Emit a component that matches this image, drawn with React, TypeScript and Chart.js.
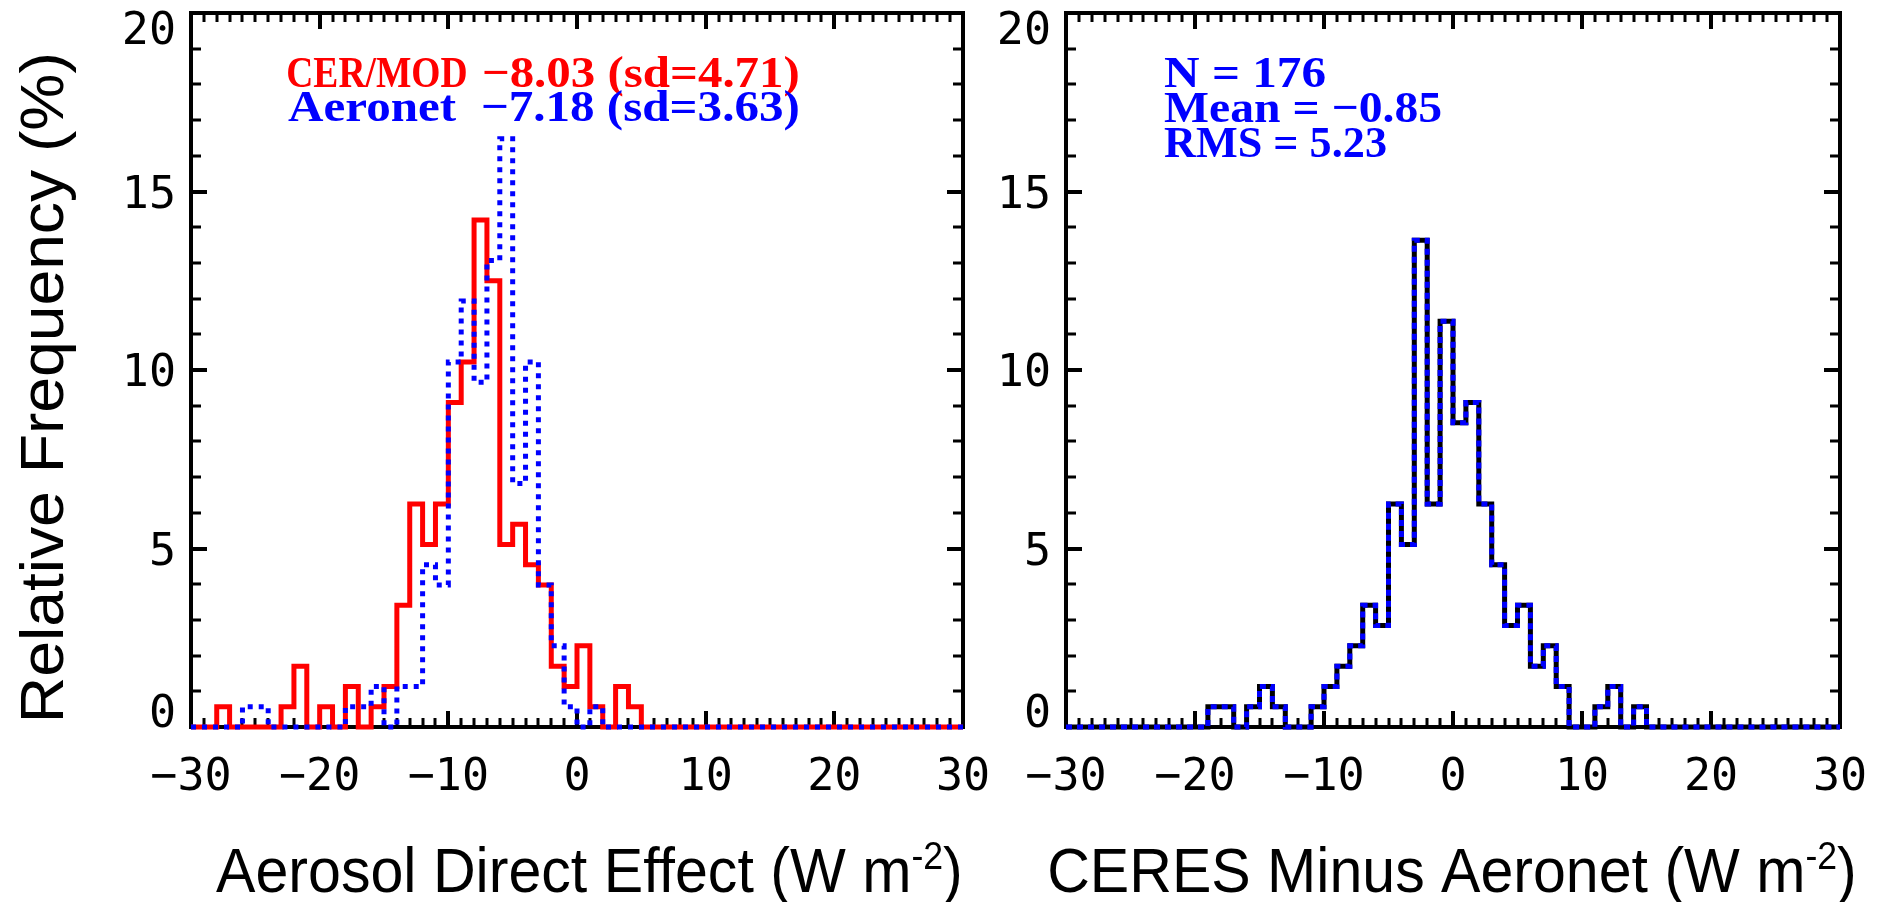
import React, { useEffect, useRef } from "react";
import { Chart, registerables } from "chart.js";

Chart.register(...registerables);

// ---------------- data ----------------
const N_OBS = 176; // number of coincident observations
const BIN_START = -30; // left edge of first bin (W m-2)
const BIN_WIDTH = 1; // bin width (W m-2)

// counts per 1 W m-2 bin, bins [-30,-29) ... [29,30)
const cerModCounts = [
  0, 0, 1, 0, 0, 0, 0, 1, 3, 0,
  1, 0, 2, 0, 1, 2, 6, 11, 9, 11,
  16, 18, 25, 22, 9, 10, 8, 7, 3, 2,
  4, 1, 0, 2, 1, 0, 0, 0, 0, 0,
  0, 0, 0, 0, 0, 0, 0, 0, 0, 0,
  0, 0, 0, 0, 0, 0, 0, 0, 0, 0,
];
const aeronetCounts = [
  0, 0, 0, 0, 1, 1, 0, 0, 0, 0,
  0, 0, 1, 1, 2, 0, 2, 2, 8, 7,
  18, 21, 17, 23, 29, 12, 18, 7, 4, 1,
  0, 1, 0, 0, 0, 0, 0, 0, 0, 0,
  0, 0, 0, 0, 0, 0, 0, 0, 0, 0,
  0, 0, 0, 0, 0, 0, 0, 0, 0, 0,
];
const diffCounts = [
  0, 0, 0, 0, 0, 0, 0, 0, 0, 0,
  0, 1, 1, 0, 1, 2, 1, 0, 0, 1,
  2, 3, 4, 6, 5, 11, 9, 24, 11, 20,
  15, 16, 11, 8, 5, 6, 3, 4, 2, 0,
  0, 1, 2, 0, 1, 0, 0, 0, 0, 0,
  0, 0, 0, 0, 0, 0, 0, 0, 0, 0,
];

const X_MIN = -30;
const X_MAX = 30;
const Y_MIN = 0;
const Y_MAX = 20;
const X_TICK_LABELS = [-30, -20, -10, 0, 10, 20, 30];
const Y_TICK_LABELS = [0, 5, 10, 15, 20];
const X_MINOR_STEP = 1;
const Y_MINOR_STEP = 1;

const LEFT_LEGEND = [
  { parts: ["CER/MOD", "\u22128.03 (sd=4.71)"], color: "#ff0000" },
  { parts: ["Aeronet  \u22127.18 (sd=3.63)"], color: "#0000ff" },
];
const RIGHT_STATS = ["N = 176", "Mean = \u22120.85", "RMS = 5.23"];
const Y_TITLE = "Relative Frequency (%)";
const LEFT_X_TITLE = ["Aerosol Direct Effect (W m", "-2", ")"];
const RIGHT_X_TITLE = ["CERES Minus Aeronet (W m", "-2", ")"];

// ---------------- helpers ----------------
const toSteps = (counts: number[]) => {
  const pts = counts.map((c, i) => ({ x: BIN_START + i * BIN_WIDTH, y: (c / N_OBS) * 100 }));
  pts.push({ x: BIN_START + counts.length * BIN_WIDTH, y: pts[pts.length - 1].y });
  return pts;
};

const fmt = (v: number) => (v < 0 ? "\u2212" + Math.abs(v) : String(v));

function fitText(
  ctx: CanvasRenderingContext2D,
  text: string,
  x0: number,
  x1: number,
  baseline: number,
  font: string,
  color: string
) {
  ctx.save();
  ctx.font = font;
  ctx.fillStyle = color;
  ctx.textAlign = "left";
  ctx.textBaseline = "alphabetic";
  const m = ctx.measureText(text);
  const inkW = m.actualBoundingBoxLeft + m.actualBoundingBoxRight;
  const s = (x1 - x0) / inkW;
  ctx.translate(x0, baseline);
  ctx.scale(s, 1);
  ctx.fillText(text, m.actualBoundingBoxLeft, 0);
  ctx.restore();
}

function drawUnitTitle(
  ctx: CanvasRenderingContext2D,
  parts: string[],
  x0: number,
  x1: number,
  baseline: number,
  size: number
) {
  const big = `${size}px 'Liberation Sans', Arial, sans-serif`;
  const small = `${Math.round(size * 0.6)}px 'Liberation Sans', Arial, sans-serif`;
  ctx.save();
  ctx.fillStyle = "#000";
  ctx.textAlign = "left";
  ctx.textBaseline = "alphabetic";
  ctx.font = big;
  const w0 = ctx.measureText(parts[0]).width;
  const left = ctx.measureText(parts[0]).actualBoundingBoxLeft;
  const w2m = ctx.measureText(parts[2]);
  ctx.font = small;
  const w1 = ctx.measureText(parts[1]).width;
  const total = left + w0 + w1 + w2m.actualBoundingBoxRight;
  const s = (x1 - x0) / total;
  ctx.translate(x0, baseline);
  ctx.scale(s, 1);
  ctx.font = big;
  ctx.fillText(parts[0], left, 0);
  ctx.font = small;
  ctx.fillText(parts[1], left + w0, -size * 0.36);
  ctx.font = big;
  ctx.fillText(parts[2], left + w0 + w1, 0);
  ctx.restore();
}

type DecorCfg = {
  drawYTitle: boolean;
  xTitle: string[];
  xTitleSpan: [number, number];
  texts: (ctx: CanvasRenderingContext2D) => void;
};

const makeDecor = (cfg: DecorCfg) => ({
  id: "decor",
  beforeDatasetsDraw(chart: any) {
    const { ctx, chartArea: a, scales } = chart;
    const x = scales.x;
    const y = scales.y;
    ctx.save();
    ctx.strokeStyle = "#000";
    for (let v = X_MIN; v <= X_MAX; v += X_MINOR_STEP) {
      const px = Math.round(x.getPixelForValue(v));
      const major = X_TICK_LABELS.includes(v);
      const len = major ? 16 : 9;
      ctx.lineWidth = major ? 4 : 3;
      ctx.beginPath();
      ctx.moveTo(px, a.bottom);
      ctx.lineTo(px, a.bottom - len);
      ctx.moveTo(px, a.top);
      ctx.lineTo(px, a.top + len);
      ctx.stroke();
    }
    for (let v = Y_MIN; v <= Y_MAX; v += Y_MINOR_STEP) {
      const py = Math.round(y.getPixelForValue(v));
      const major = Y_TICK_LABELS.includes(v);
      const len = major ? 16 : 10;
      ctx.lineWidth = major ? 4 : 3;
      ctx.beginPath();
      ctx.moveTo(a.left, py);
      ctx.lineTo(a.left + len, py);
      ctx.moveTo(a.right, py);
      ctx.lineTo(a.right - len, py);
      ctx.stroke();
    }
    ctx.lineWidth = 4;
    ctx.strokeRect(a.left, a.top, a.right - a.left, a.bottom - a.top);
    ctx.restore();
  },
  afterDraw(chart: any) {
    const { ctx, chartArea: a, scales } = chart;
    const x = scales.x;
    const y = scales.y;
    ctx.save();
    ctx.fillStyle = "#000";
    ctx.font = "45px 'DejaVu Sans Mono', monospace";
    ctx.textBaseline = "alphabetic";
    ctx.textAlign = "right";
    for (const v of Y_TICK_LABELS) {
      const py = y.getPixelForValue(v);
      let base = py + 16;
      base = Math.min(base, a.bottom);
      base = Math.max(base, a.top + 31);
      ctx.fillText(fmt(v), a.left - 15, base);
    }
    ctx.textAlign = "center";
    for (const v of X_TICK_LABELS) {
      ctx.fillText(fmt(v), x.getPixelForValue(v), a.bottom + 63);
    }
    ctx.restore();

    drawUnitTitle(ctx, cfg.xTitle, cfg.xTitleSpan[0], cfg.xTitleSpan[1], 892, 63);

    if (cfg.drawYTitle) {
      ctx.save();
      ctx.translate(63, 718);
      ctx.rotate(-Math.PI / 2);
      fitText(ctx, Y_TITLE, 0, 718 - 56, 0, "62px 'Liberation Sans', Arial, sans-serif", "#000");
      ctx.restore();
    }
    cfg.texts(ctx);
  },
});

const LEGEND_FONT = "bold 44px 'Liberation Serif', 'Times New Roman', serif";

const leftTexts = (ctx: CanvasRenderingContext2D) => {
  fitText(ctx, LEFT_LEGEND[0].parts[0], 288, 466, 87, LEGEND_FONT, LEFT_LEGEND[0].color);
  fitText(ctx, LEFT_LEGEND[0].parts[1], 484, 798, 87, LEGEND_FONT, LEFT_LEGEND[0].color);
  fitText(ctx, LEFT_LEGEND[1].parts[0], 288, 798, 121, LEGEND_FONT, LEFT_LEGEND[1].color);
};

const rightTexts = (ctx: CanvasRenderingContext2D) => {
  fitText(ctx, RIGHT_STATS[0], 1164, 1325, 87, LEGEND_FONT, "#0000ff");
  fitText(ctx, RIGHT_STATS[1], 1164, 1441, 122, LEGEND_FONT, "#0000ff");
  fitText(ctx, RIGHT_STATS[2], 1164, 1386, 157, LEGEND_FONT, "#0000ff");
};

type HistProps = {
  datasets: any[];
  padding: { left: number; right: number; top: number; bottom: number };
  decor: DecorCfg;
};

function HistChart({ datasets, padding, decor }: HistProps) {
  const ref = useRef<HTMLCanvasElement>(null);
  useEffect(() => {
    if (!ref.current) return;
    const chart = new Chart(ref.current, {
      type: "line",
      data: { datasets },
      options: {
        animation: false,
        responsive: false,
        maintainAspectRatio: false,
        layout: { padding },
        plugins: {
          legend: { display: false },
          tooltip: { enabled: false },
          title: { display: false },
        },
        elements: { point: { radius: 0 }, line: { tension: 0 } },
        scales: {
          x: { type: "linear", min: X_MIN, max: X_MAX, display: false },
          y: { type: "linear", min: Y_MIN, max: Y_MAX, display: false },
        },
      },
      plugins: [makeDecor(decor)],
    } as any);
    return () => chart.destroy();
  }, []);
  return (
    <canvas
      ref={ref}
      width={1881}
      height={902}
      style={{ position: "absolute", left: 0, top: 0, width: 1881, height: 902 }}
    />
  );
}

const lineStyle = (color: string, dash: number[], order: number) => ({
  borderColor: color,
  borderWidth: 5,
  borderDash: dash,
  borderJoinStyle: "miter",
  borderCapStyle: "butt",
  stepped: true,
  pointRadius: 0,
  fill: false,
  clip: false,
  order,
});

export default function App() {
  const leftSets = [
    { label: "CER/MOD", data: toSteps(cerModCounts), ...lineStyle("#ff0000", [], 1) },
    { label: "Aeronet", data: toSteps(aeronetCounts), ...lineStyle("#0000ff", [5, 6], 0) },
  ];
  const rightSets = [
    { label: "CERES - Aeronet", data: toSteps(diffCounts), ...lineStyle("#000000", [], 1) },
    { label: "CERES - Aeronet (dash)", data: toSteps(diffCounts), ...lineStyle("#0000ff", [6, 5], 0) },
  ];
  return (
    <div
      style={{
        position: "absolute",
        left: 0,
        top: 0,
        width: 1881,
        height: 902,
        background: "#ffffff",
        overflow: "hidden",
      }}
    >
      <HistChart
        datasets={leftSets}
        padding={{ left: 191, right: 1881 - 963, top: 13, bottom: 902 - 727 }}
        decor={{ drawYTitle: true, xTitle: LEFT_X_TITLE, xTitleSpan: [216, 960], texts: leftTexts }}
      />
      <HistChart
        datasets={rightSets}
        padding={{ left: 1066, right: 1881 - 1840, top: 13, bottom: 902 - 727 }}
        decor={{ drawYTitle: false, xTitle: RIGHT_X_TITLE, xTitleSpan: [1050, 1854], texts: rightTexts }}
      />
    </div>
  );
}
